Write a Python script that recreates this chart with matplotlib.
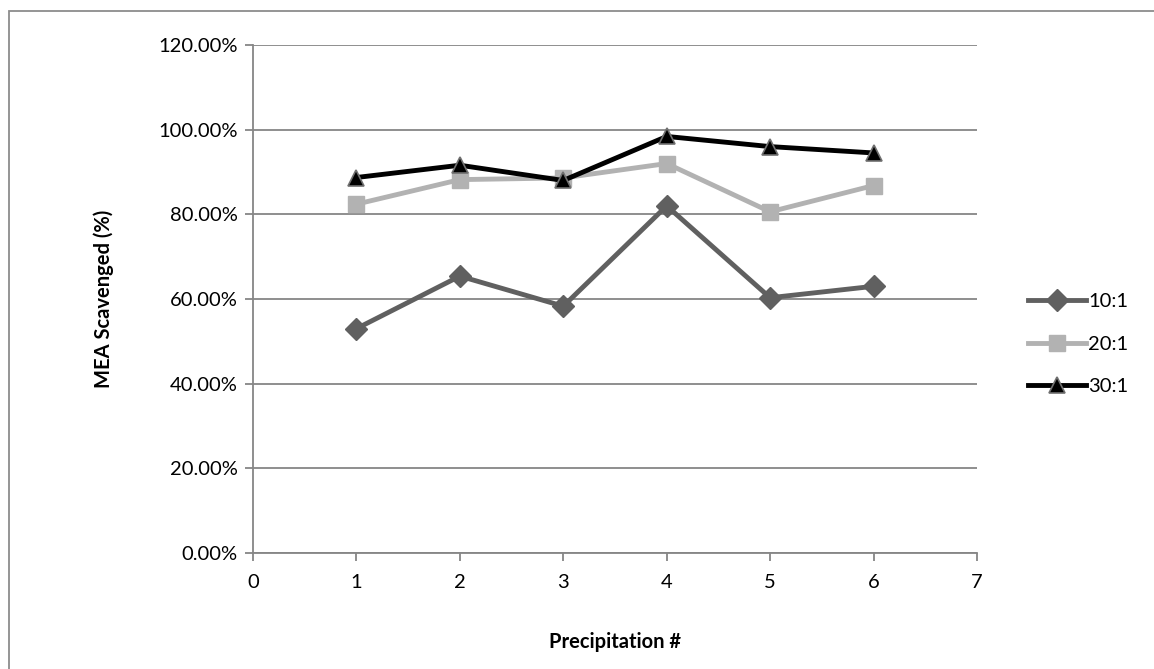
import matplotlib
matplotlib.use("Agg")
import matplotlib.pyplot as plt
from matplotlib.patches import Rectangle
from matplotlib.ticker import FuncFormatter

# datos
precipitacion = [1, 2, 3, 4, 5, 6]
serie_10 = [53.0, 65.4, 58.3, 82.0, 60.3, 63.0]
serie_20 = [82.4, 88.2, 88.6, 92.0, 80.6, 86.8]
serie_30 = [88.7, 91.6, 88.0, 98.4, 96.0, 94.5]
etiquetas = ["10:1", "20:1", "30:1"]

plt.rcParams['font.family'] = ['Lato', 'DejaVu Sans']

fig = plt.figure(figsize=(11.54, 6.69), dpi=100)
ax = fig.add_axes([253/1154, 1 - 553/669, (977 - 253)/1154, (553 - 45)/669])

# marco exterior (solo se ve arriba e izquierda)
fig.patches.append(Rectangle((9/1154, -0.1), 1.2, 1.1 - 11/669, transform=fig.transFigure,
                             fill=False, edgecolor='#8c8c8c', linewidth=1.3))

ax.plot(precipitacion, serie_10, color='#606060', lw=3.5, marker='D', ms=11,
        mfc='#606060', mec='#606060', label=etiquetas[0], zorder=3)
ax.plot(precipitacion, serie_20, color='#b2b2b2', lw=3.5, marker='s', ms=12,
        mfc='#b2b2b2', mec='#b2b2b2', label=etiquetas[1], zorder=3)
ax.plot(precipitacion, serie_30, color='black', lw=3.5, marker='^', ms=12,
        mfc='black', mec='#707070', mew=1.2, label=etiquetas[2], zorder=4)

ax.set_xlim(0, 7)
ax.set_ylim(0, 120)
ax.set_xticks(range(0, 8))
ax.set_yticks(range(0, 121, 20))
ax.yaxis.set_major_formatter(FuncFormatter(lambda v, p: f"{v:.2f}%"))
ax.grid(axis='y', color='#868686', lw=1.3)
ax.set_axisbelow(True)

for s in ['top', 'right']:
    ax.spines[s].set_visible(False)
for s in ['left', 'bottom']:
    ax.spines[s].set_color('#868686')
    ax.spines[s].set_linewidth(1.3)
ax.tick_params(axis='both', colors='#868686', length=6, width=1.3, labelsize=14.5,
               labelcolor='black')
ax.tick_params(axis='x', pad=9)
ax.tick_params(axis='y', pad=5)

ax.set_xlabel("Precipitation #", fontsize=14.5, fontweight='bold', labelpad=30)
ax.set_ylabel("MEA Scavenged (%)", fontsize=14.5, fontweight='bold', labelpad=32)

ax.legend(loc='center left', bbox_to_anchor=(1028/1154, 1 - 344/669),
          bbox_transform=fig.transFigure, frameon=False, fontsize=14.5,
          handlelength=2.9, handletextpad=0.1, labelspacing=1.25, borderpad=0,
          borderaxespad=0)

fig.savefig("out.png", dpi=100)
